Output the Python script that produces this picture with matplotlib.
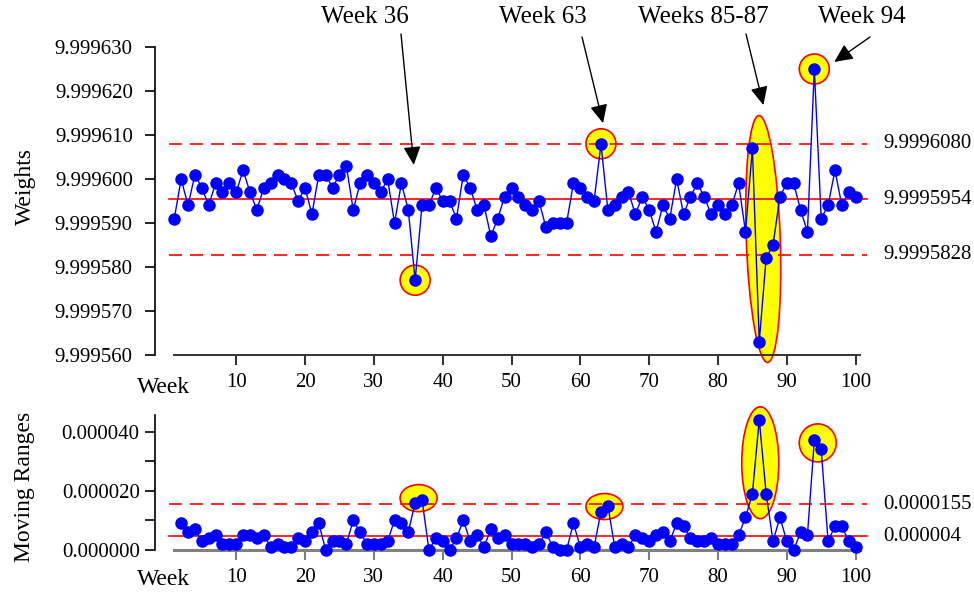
#XmR chart: weekly weights and their moving ranges
import numpy as np
import matplotlib
matplotlib.use("Agg")
import matplotlib.pyplot as plt
from matplotlib.patches import Ellipse
from matplotlib import transforms

plt.rcParams['font.family'] = ['Liberation Serif', 'DejaVu Serif']

weeks = np.arange(1, 101)
weights = np.array([
    9.999591, 9.999600, 9.999594, 9.999601, 9.999598, 9.999594, 9.999599, 9.999597, 9.999599, 9.999597,
    9.999602, 9.999597, 9.999593, 9.999598, 9.999599, 9.999601, 9.999600, 9.999599, 9.999595, 9.999598,
    9.999592, 9.999601, 9.999601, 9.999598, 9.999601, 9.999603, 9.999593, 9.999599, 9.999601, 9.999599,
    9.999597, 9.999600, 9.999590, 9.999599, 9.999593, 9.999577, 9.999594, 9.999594, 9.999598, 9.999595,
    9.999595, 9.999591, 9.999601, 9.999598, 9.999593, 9.999594, 9.999587, 9.999591, 9.999596, 9.999598,
    9.999596, 9.999594, 9.999593, 9.999595, 9.999589, 9.999590, 9.999590, 9.999590, 9.999599, 9.999598,
    9.999596, 9.999595, 9.999608, 9.999593, 9.999594, 9.999596, 9.999597, 9.999592, 9.999596, 9.999593,
    9.999588, 9.999594, 9.999591, 9.999600, 9.999592, 9.999596, 9.999599, 9.999596, 9.999592, 9.999594,
    9.999592, 9.999594, 9.999599, 9.999588, 9.999607, 9.999563, 9.999582, 9.999585, 9.999596, 9.999599,
    9.999599, 9.999593, 9.999588, 9.999625, 9.999591, 9.999594, 9.999602, 9.999594, 9.999597, 9.999596,
])
mr_weeks = weeks[1:]
moving_ranges = np.abs(np.diff(weights))

# limits as printed on the chart
x_limits = [9.9996080, 9.9995954, 9.9995828]
x_limit_labels = ["9.9996080", "9.9995954", "9.9995828"]
mr_limits = [0.0000155, 0.0000047]
mr_limit_labels = ["0.0000155", "0.000004"]

x_ticks = [10, 20, 30, 40, 50, 60, 70, 80, 90, 100]
w_ticks = [9.999560, 9.999570, 9.999580, 9.999590, 9.999600, 9.999610, 9.999620, 9.999630]
mr_ticks = [0.0, 0.00001, 0.00002, 0.00003, 0.00004]
mr_tick_labels = ["0.000000", "", "0.000020", "", "0.000040"]

# highlighted signals: weeks, then pixel size / offset of the ring
x_signals = [([36], 30, 30, 0, 0, 0), ([63], 30, 30, 0, 0, 0),
             ([85, 86, 87], 34, 247, 4, 6, 2), ([94], 30, 30, 0, 0, 0)]
mr_signals = [([36, 37], 37, 27, 0, 3, 0), ([63, 64], 37, 26, 0, 2, 0),
              ([85, 86, 87], 37, 112, 1, -6, 0), ([94, 95], 37, 38, 0, 2, 0)]

notes = ["Week 36", "Week 63", "Weeks 85-87", "Week 94"]
note_text_px = [(365, 17), (543, 17), (703, 17), (862, 17)]
note_tail_px = [(401, 34), (582, 37), (746, 34), (870, 37)]
note_tip = [(35.8, 9.9996032), (63.3, 9.9996127), (86.6, 9.9996168), (96.9, 9.9996266)]

FS = 15
W, H = 974, 592

fig = plt.figure(figsize=(9.74, 5.92), dpi=100)
ax1 = fig.add_axes([155 / W, 1 - 355 / H, (868 - 155) / W, (355 - 47) / H])
ax2 = fig.add_axes([155 / W, 1 - 550 / H, (868 - 155) / W, (550 - 415) / H])


def ring(ax, group, xs_all, vals, w, h, dx, dy, ang):
    sel = np.isin(xs_all, group)
    xs = xs_all[sel]
    ys = vals[sel]
    cx = xs.mean()
    cy = (ys.max() + ys.min()) / 2
    tr = fig.dpi_scale_trans + transforms.ScaledTranslation(cx, cy, ax.transData)
    e = Ellipse((dx / 100, dy / 100), w / 100, h / 100, angle=ang, transform=tr,
                facecolor="#FFFF00", edgecolor="#FF0000", lw=1.2, zorder=1, clip_on=False)
    ax.add_patch(e)


def style(ax, ylim, yticks, ylabels, xaxis_color, xaxis_lw, ypad):
    ax.set_xlim(-1.8, 101.8)
    ax.set_ylim(*ylim)
    for s in ["top", "right"]:
        ax.spines[s].set_visible(False)
    ax.spines["left"].set_linewidth(1.2)
    ax.spines["left"].set_color("black")
    ax.spines["bottom"].set_bounds(1, 100.7)
    ax.spines["bottom"].set_color(xaxis_color)
    ax.spines["bottom"].set_linewidth(xaxis_lw)
    ax.set_xticks(x_ticks)
    ax.set_xticklabels([str(t) for t in x_ticks])
    ax.set_yticks(yticks)
    ax.set_yticklabels(ylabels)
    ax.tick_params(axis="y", direction="out", length=7, width=1.2, colors="black", labelsize=FS, pad=ypad)
    ax.tick_params(axis="x", direction="out", length=7, width=1.5, color=xaxis_color,
                   labelcolor="black", labelsize=FS, pad=6)
    ax.patch.set_alpha(0)


# Weights chart
style(ax1, (9.999560, 9.999630), w_ticks, ["%.6f" % t for t in w_ticks], "#333333", 1.4, 9)
for val, dash in zip(x_limits, [True, False, True]):
    ax1.plot([0.2, 101.7], [val, val], color="#FF0000", lw=1.2,
             dashes=(7.8, 4.8) if dash else (None, None), zorder=2, clip_on=False)
ax1.plot(weeks, weights, color="#0000FF", lw=1.0, marker="o", ms=8,
         markerfacecolor="#0000FF", markeredgecolor="#0000FF", zorder=3, clip_on=False)
for g in x_signals:
    ring(ax1, g[0], weeks, weights, *g[1:])
for val, lab in zip(x_limits, x_limit_labels):
    ax1.text(883 / W, val, lab, transform=transforms.blended_transform_factory(fig.transFigure, ax1.transData),
             ha="left", va="center", fontsize=FS)

# Moving range chart
style(ax2, (0, 0.0000456), mr_ticks, mr_tick_labels, "#808080", 2.2, 4)
for val, dash in zip(mr_limits, [True, False]):
    ax2.plot([0.2, 101.7], [val, val], color="#FF0000", lw=1.2,
             dashes=(7.8, 4.8) if dash else (None, None), zorder=2, clip_on=False)
ax2.plot(mr_weeks, moving_ranges, color="#0000FF", lw=1.0, marker="o", ms=8,
         markerfacecolor="#0000FF", markeredgecolor="#0000FF", zorder=3, clip_on=False)
for g in mr_signals:
    ring(ax2, g[0], mr_weeks, moving_ranges, *g[1:])
for val, lab in zip(mr_limits, mr_limit_labels):
    ax2.text(883 / W, val, lab, transform=transforms.blended_transform_factory(fig.transFigure, ax2.transData),
             ha="left", va="center", fontsize=FS)

# axis titles
fig.text(25 / W, 1 - 186 / H, "Weights", rotation=90, ha="center", va="center", fontsize=17)
fig.text(25 / W, 1 - 487 / H, "Moving Ranges", rotation=90, ha="center", va="center", fontsize=17)
fig.text(164 / W, 1 - 393 / H, "Week", ha="center", va="baseline", fontsize=17)
fig.text(164 / W, 1 - 585 / H, "Week", ha="center", va="baseline", fontsize=17)

# call-outs
for txt, tp, tail, tip in zip(notes, note_text_px, note_tail_px, note_tip):
    fig.text(tp[0] / W, 1 - tp[1] / H, txt, ha="center", va="center", fontsize=18)
    ax1.annotate("", xy=tip, xycoords="data",
                 xytext=(tail[0], H - tail[1]), textcoords="figure pixels",
                 arrowprops=dict(arrowstyle="-|>,head_length=0.7,head_width=0.33",
                                 mutation_scale=16, color="black", lw=1.0, shrinkA=0, shrinkB=0),
                 annotation_clip=False)

fig.savefig("out.png", dpi=100)
